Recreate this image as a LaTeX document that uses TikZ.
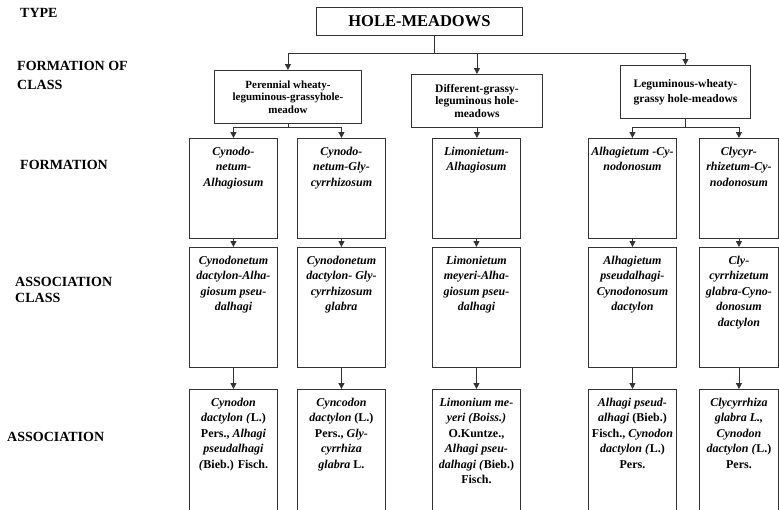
\documentclass[tikz,border=0pt]{standalone}
\usepackage{fontspec}
\setmainfont{Liberation Serif}
\usetikzlibrary{arrows.meta}
\newcommand\btxt[3]{\parbox[t][#2][t]{#1}{\centering\rule{0pt}{17pt}#3}}
\begin{document}
\begin{tikzpicture}[x=1pt,y=-1pt,
  ln/.style={draw=black!80, line width=0.9pt},
  arr/.style={ln, -{Triangle[length=6pt,width=6pt]}},
  bx/.style={draw=black!80, line width=0.9pt, inner sep=0pt, anchor=north west,
    font=\bfseries\fontsize{12}{15.5}\selectfont},
  cls/.style={draw=black!80, line width=0.9pt, inner sep=0pt, align=center, anchor=north west,
    font=\bfseries\fontsize{11.5}{12.5}\selectfont},
  lbl/.style={anchor=west, align=left, inner sep=0pt, font=\bfseries\fontsize{14}{17}\selectfont}
]
\useasboundingbox (0,0) rectangle (779,509);
\fill[white] (0,0) rectangle (779,509);
\clip (0,0) rectangle (779,509);

% level labels
\node[lbl] (lt) at (20,13) {TYPE};
\node[lbl, font=\bfseries\fontsize{14}{19}\selectfont] (lfc) at (17,75.5) {FORMATION OF\\CLASS};
\node[lbl] (lf) at (20,165) {FORMATION};
\node[lbl, font=\bfseries\fontsize{14}{16.5}\selectfont] (lac) at (15,290) {ASSOCIATION\\CLASS};
\node[lbl] (la) at (7,437) {ASSOCIATION};

% type
\node[cls, minimum width=206pt, minimum height=28pt, font=\bfseries\fontsize{16.5}{18}\selectfont] (hm) at (316,7) {HOLE-MEADOWS};

% formation classes
\node[cls, minimum width=147pt, minimum height=53pt, font=\bfseries\fontsize{11}{12.5}\selectfont] (c1) at (214,70)
  {Perennial wheaty-\\leguminous-grassyhole-\\meadow};
\node[cls, minimum width=131pt, minimum height=53pt] (c2) at (411,74)
  {Different-grassy-\\leguminous hole-\\meadows};
\node[cls, minimum width=130pt, minimum height=53pt, font=\bfseries\fontsize{11.5}{15}\selectfont] (c3) at (620,65)
  {Leguminous-wheaty-\\grassy hole-meadows};

% formations
\node[bx] (f1) at (189,138) {\btxt{88pt}{100pt}{\itshape Cynodo-\\netum-\\Alhagiosum}};
\node[bx] (f2) at (297,138) {\btxt{88pt}{100pt}{\itshape Cynodo-\\netum-Gly-\\cyrrhizosum}};
\node[bx] (f3) at (432,138) {\btxt{88pt}{100pt}{\itshape Limonietum-\\Alhagiosum}};
\node[bx] (f4) at (588,138) {\btxt{88pt}{100pt}{\itshape Alhagietum -Cy-\\nodonosum}};
\node[bx] (f5) at (699,138) {\btxt{79pt}{100pt}{\itshape Clycyr-\\rhizetum-Cy-\\nodonosum}};

% association classes
\node[bx] (a1) at (189,247) {\btxt{88pt}{120pt}{\itshape Cynodonetum\\dactylon-Alha-\\giosum pseu-\\dalhagi}};
\node[bx] (a2) at (297,247) {\btxt{88pt}{120pt}{\itshape Cynodonetum\\dactylon- Gly-\\cyrrhizosum\\glabra}};
\node[bx] (a3) at (432,247) {\btxt{88pt}{120pt}{\itshape Limonietum\\meyeri-Alha-\\giosum pseu-\\dalhagi}};
\node[bx] (a4) at (588,247) {\btxt{88pt}{120pt}{\itshape Alhagietum\\pseudalhagi-\\Cynodonosum\\dactylon}};
\node[bx] (a5) at (699,247) {\btxt{79pt}{120pt}{\itshape Cly-\\cyrrhizetum\\glabra-Cyno-\\donosum\\dactylon}};

% associations
\node[bx] (s1) at (189,389) {\btxt{88pt}{130pt}{\textit{Cynodon}\\\textit{dactylon (}L.)\\Pers., \textit{Alhagi}\\\textit{pseudalhagi}\\\textit{(}Bieb.) Fisch.}};
\node[bx] (s2) at (297,389) {\btxt{88pt}{130pt}{\textit{Cyncodon}\\\textit{dactylon} (L.)\\Pers., \textit{Gly-}\\\textit{cyrrhiza}\\\textit{glabra} L.}};
\node[bx] (s3) at (432,389) {\btxt{88pt}{130pt}{\textit{Limonium me-}\\\textit{yeri (Boiss.)}\\O.Kuntze.,\\\textit{Alhagi pseu-}\\\textit{dalhagi (}Bieb.)\\Fisch.}};
\node[bx] (s4) at (588,389) {\btxt{88pt}{130pt}{\textit{Alhagi pseud-}\\\textit{alhagi} (Bieb.)\\Fisch., \textit{Cynodon}\\\textit{dactylon (}L.)\\Pers.}};
\node[bx] (s5) at (699,389) {\btxt{79pt}{130pt}{\textit{Clycyrrhiza}\\\textit{glabra L.,}\\\textit{Cynodon}\\\textit{dactylon (}L.)\\Pers.}};

% connectors
\coordinate (j0) at (434,53);
\draw[ln] (hm.south -| j0) -- (j0);
\draw[arr] (j0) -| (c1);
\draw[arr] (j0) -| (c2);
\draw[arr] (j0) -| (c3);

\path (c1.south) ++(0,4) coordinate (j1);
\draw[ln] (c1) -- (j1);
\draw[arr] (j1) -| (f1);
\draw[arr] (j1) -| (f2);

\draw[arr] (c2) -- (c2 |- f3.north);

\path (c3.south) ++(0,9) coordinate (j3);
\draw[ln] (c3) -- (j3);
\draw[arr] (j3) -| (f4);
\draw[arr] (j3) -| (f5);

\foreach \i in {1,...,5}{
  \draw[arr] (f\i) -- (a\i);
  \draw[arr] (a\i) -- (s\i);
}
\end{tikzpicture}
\end{document}
